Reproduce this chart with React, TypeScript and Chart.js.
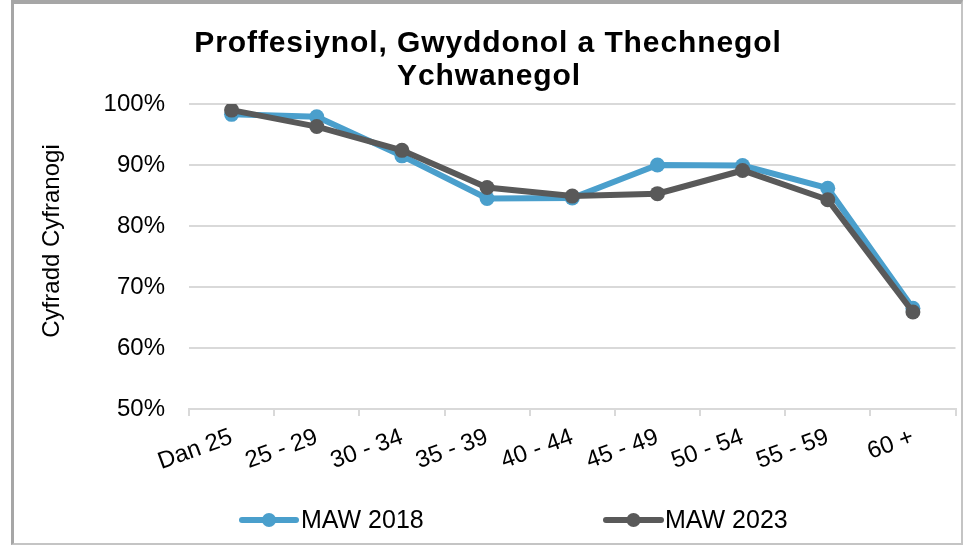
import React, { useEffect, useRef } from "react";
import { Chart, registerables } from "chart.js";

Chart.register(...registerables);

const categories = ["Dan 25", "25 - 29", "30 - 34", "35 - 39", "40 - 44", "45 - 49", "50 - 54", "55 - 59", "60 +"];
const maw2018 = [98.3, 97.9, 91.5, 84.5, 84.6, 90.0, 89.9, 86.2, 66.5];
const maw2023 = [99.0, 96.3, 92.4, 86.3, 84.9, 85.3, 89.1, 84.3, 65.9];
const titleLines = ["Proffesiynol, Gwyddonol a Thechnegol", "Ychwanegol"];
const yAxisTitle = "Cyfradd Cyfranogi";
const seriesNames = ["MAW 2018", "MAW 2023"];
const yMin = 50;
const yMax = 100;
const yStep = 10;

const BLUE = "#4a9fcc";
const GRAY = "#595959";
const GRID = "#d9d9d9";
const FONT = "'Liberation Sans', Arial, sans-serif";

const decorPlugin = {
  id: "decor",
  afterDraw(chart: any) {
    const ctx = chart.ctx;
    ctx.save();
    // Title
    ctx.fillStyle = "#000";
    ctx.font = `bold 30px ${FONT}`;
    ctx.textAlign = "center";
    ctx.textBaseline = "alphabetic";
    try {
      (ctx as any).letterSpacing = "0.9px";
    } catch (e) {}
    ctx.fillText(titleLines[0], 488, 52);
    ctx.fillText(titleLines[1], 489, 85);
    try {
      (ctx as any).letterSpacing = "0px";
    } catch (e) {}
    // Y axis title
    ctx.save();
    ctx.translate(59, 241);
    ctx.rotate(-Math.PI / 2);
    ctx.font = `24px ${FONT}`;
    ctx.textAlign = "center";
    ctx.fillStyle = "#000";
    ctx.fillText(yAxisTitle, 0, 0);
    ctx.restore();
    // Legend
    const items = [
      { color: BLUE, x0: 242, x1: 296, tx: 301, label: seriesNames[0] },
      { color: GRAY, x0: 606, x1: 661, tx: 665, label: seriesNames[1] },
    ];
    const ly = 520;
    items.forEach((it) => {
      ctx.strokeStyle = it.color;
      ctx.lineWidth = 6;
      ctx.lineCap = "round";
      ctx.beginPath();
      ctx.moveTo(it.x0, ly);
      ctx.lineTo(it.x1, ly);
      ctx.stroke();
      ctx.fillStyle = it.color;
      ctx.beginPath();
      ctx.arc((it.x0 + it.x1) / 2, ly, 7, 0, Math.PI * 2);
      ctx.fill();
      ctx.fillStyle = "#000";
      ctx.font = `25px ${FONT}`;
      ctx.textAlign = "left";
      ctx.textBaseline = "middle";
      ctx.fillText(it.label, it.tx, ly + 1);
    });
    ctx.restore();
  },
};

export default function App() {
  const ref = useRef<HTMLCanvasElement | null>(null);

  useEffect(() => {
    if (!ref.current) return;
    const chart = new Chart(ref.current, {
      type: "line",
      data: {
        labels: categories,
        datasets: [
          {
            label: seriesNames[0],
            data: maw2018,
            borderColor: BLUE,
            backgroundColor: BLUE,
            borderWidth: 6,
            pointRadius: 7.5,
            pointBorderWidth: 0,
            pointBackgroundColor: BLUE,
            tension: 0,
            order: 2,
          },
          {
            label: seriesNames[1],
            data: maw2023,
            borderColor: GRAY,
            backgroundColor: GRAY,
            borderWidth: 6,
            pointRadius: 7.5,
            pointBorderWidth: 0,
            pointBackgroundColor: GRAY,
            tension: 0,
            order: 1,
          },
        ],
      },
      options: {
        responsive: false,
        animation: false,
        devicePixelRatio: 1,
        layout: { padding: { left: 0, right: 7, top: 104, bottom: 0 } },
        plugins: {
          legend: { display: false },
          title: { display: false },
          tooltip: { enabled: false },
        },
        scales: {
          x: {
            type: "category",
            offset: true,
            afterFit: (scale: any) => {
              scale.height = 136;
            },
            grid: {
              offset: true,
              drawOnChartArea: false,
              drawTicks: true,
              tickLength: 7,
              color: GRID,
              lineWidth: 2,
            },
            border: { display: true, color: GRID, width: 2 },
            ticks: {
              minRotation: 20,
              maxRotation: 20,
              padding: 7,
              color: "#000",
              font: { family: FONT, size: 24 },
              autoSkip: false,
            },
          },
          y: {
            min: yMin,
            max: yMax,
            afterFit: (scale: any) => {
              scale.width = 189;
            },
            grid: {
              drawTicks: false,
              tickLength: 0,
              color: GRID,
              lineWidth: 2,
            },
            border: { display: false },
            ticks: {
              stepSize: yStep,
              padding: 24,
              color: "#000",
              font: { family: FONT, size: 24 },
              callback: (v: any) => `${v}%`,
            },
          },
        },
      },
      plugins: [decorPlugin],
    });
    return () => chart.destroy();
  }, []);

  return (
    <div style={{ position: "fixed", left: 0, top: 0, width: 963, height: 545, background: "#fff", overflow: "hidden" }}>
      <div
        style={{
          position: "absolute",
          left: 11,
          top: 0,
          width: 952,
          height: 545,
          boxSizing: "border-box",
          borderLeft: "3px solid #a6a6a6",
          borderTop: "4px solid #a6a6a6",
          borderRight: "2px solid #c4c4c4",
          borderBottom: "2px solid #c4c4c4",
        }}
      />
      <canvas ref={ref} width={963} height={545} style={{ position: "absolute", left: 0, top: 0, width: 963, height: 545 }} />
    </div>
  );
}
